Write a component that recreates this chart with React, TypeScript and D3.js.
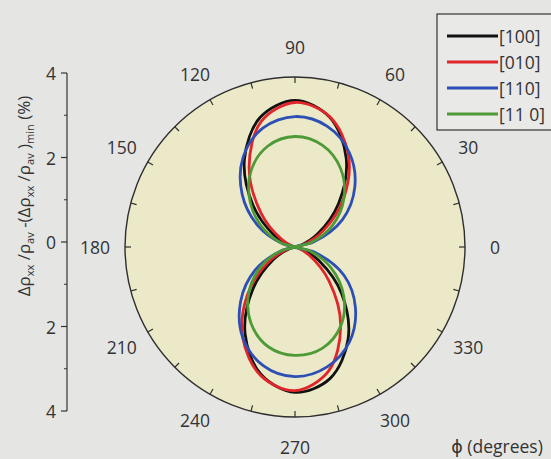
import React from 'react';
import * as d3 from 'd3';

// polar data, phi in degrees, value in %
const angles = [0, 15, 30, 45, 60, 75, 90, 105, 120, 135, 150, 165, 180, 195, 210, 225, 240, 255, 270, 285, 300, 315, 330, 345];
const dir100 = [0, 0.12, 0.61, 1.45, 2.41, 3.16, 3.45, 3.16, 2.38, 1.4, 0.58, 0.11, 0, 0.11, 0.58, 1.4, 2.35, 3.1, 3.42, 3.2, 2.5, 1.55, 0.66, 0.13];
const dir010 = [0, 0.19, 0.77, 1.62, 2.51, 3.17, 3.4, 3.06, 2.16, 1.13, 0.37, 0.05, 0, 0.17, 0.74, 1.58, 2.46, 3.13, 3.38, 3.03, 2.15, 1.13, 0.38, 0.05];
const dir110 = [0, 0.45, 1.29, 1.99, 2.56, 2.94, 3.07, 2.9, 2.44, 1.76, 1.01, 0.3, 0, 0.32, 1.08, 1.81, 2.46, 2.89, 3.05, 2.92, 2.57, 2.01, 1.33, 0.48];
const dir1m10 = [0, 0.38, 1.02, 1.63, 2.14, 2.48, 2.6, 2.46, 2.07, 1.49, 0.86, 0.3, 0, 0.34, 0.93, 1.54, 2.07, 2.43, 2.55, 2.47, 2.15, 1.62, 0.98, 0.36];

const seriesNames = ['[100]', '[010]', '[110]', '[11 0]'];
const seriesColors = ['#111111', '#e0262b', '#2d4fb5', '#4d9a36'];
const angleLabels = [0, 30, 60, 90, 120, 150, 180, 210, 240, 270, 300, 330];
const radialTicks = [4, 2, 0, -2, -4];
const radialMinor = [3, 1, -1, -3];

const cx = 295;
const cy = 247;
const R = 170;
const font = "'Open Sans', 'DejaVu Sans', sans-serif";

const App = () => {
  const allSeries = [dir100, dir010, dir110, dir1m10];
  const rScale = d3.scaleLinear().domain([0, 4]).range([0, R]);
  const line = d3
    .lineRadial<number>()
    .angle((d, i) => ((90 - angles[i]) * Math.PI) / 180)
    .radius((d) => rScale(d))
    .curve(d3.curveCatmullRomClosed.alpha(0.5));
  const yScale = d3.scaleLinear().domain([-4, 4]).range([411, 73]);
  const tickAngles = d3.range(0, 360, 15);
  const rad = (a: number) => (a * Math.PI) / 180;

  const sub = (t: string) => (
    <>
      <tspan dy={4} fontSize={11}>{t}</tspan>
      <tspan dy={-4}> </tspan>
    </>
  );

  return (
    <svg width={551} height={459} style={{ position: 'absolute', left: 0, top: 0 }} fontFamily={font}>
      <rect width={551} height={459} fill="#e5e5e4" />

      {/* polar frame */}
      <circle cx={cx} cy={cy} r={R} fill="#ece9c8" stroke="#2e2e2e" strokeWidth={1.4} />
      {tickAngles.map((a) => (
        <line
          key={a}
          x1={cx + R * Math.cos(rad(a))}
          y1={cy - R * Math.sin(rad(a))}
          x2={cx + (R - 6) * Math.cos(rad(a))}
          y2={cy - (R - 6) * Math.sin(rad(a))}
          stroke="#2e2e2e"
          strokeWidth={1.2}
        />
      ))}
      {angleLabels.map((a) => (
        <text
          key={a}
          x={cx + 200 * Math.cos(rad(a))}
          y={cy - 200 * Math.sin(rad(a))}
          textAnchor="middle"
          dominantBaseline="central"
          fontSize={17.5}
          fill="#333"
        >
          {a}
        </text>
      ))}

      {/* curves */}
      <g transform={`translate(${cx},${cy})`}>
        {allSeries.map((s, i) => (
          <path key={i} d={line(s) || ''} fill="none" stroke={seriesColors[i]} strokeWidth={2.8} strokeLinejoin="round" />
        ))}
      </g>

      {/* radial axis on the left */}
      <line x1={67} x2={67} y1={yScale(4)} y2={yScale(-4)} stroke="#333" strokeWidth={1.2} />
      {radialTicks.map((t) => (
        <g key={t}>
          <line x1={61} x2={67} y1={yScale(t)} y2={yScale(t)} stroke="#333" strokeWidth={1.2} />
          <text x={56} y={yScale(t)} textAnchor="end" dominantBaseline="central" fontSize={17.5} fill="#333">
            {Math.abs(t)}
          </text>
        </g>
      ))}
      {radialMinor.map((t) => (
        <line key={t} x1={64} x2={67} y1={yScale(t)} y2={yScale(t)} stroke="#333" strokeWidth={1} />
      ))}
      <text transform="translate(30,196) rotate(-90)" textAnchor="middle" fontSize={17} fill="#333">
        Δρ{sub('xx')}/ρ{sub('av')}-(Δρ{sub('xx')}/ρ{sub('av')}){sub('min')}(%)
      </text>

      {/* legend */}
      <rect x={437} y={14} width={130} height={116} fill="#ffffff" fillOpacity={0.15} stroke="#333" strokeWidth={1.2} />
      {seriesNames.map((n, i) => (
        <g key={n} transform={`translate(0,${36 + i * 26})`}>
          <line x1={447} x2={498} y1={0} y2={0} stroke={seriesColors[i]} strokeWidth={3.2} />
          <text x={499} y={0} dominantBaseline="central" fontSize={17.5} fill="#333">
            {n}
          </text>
        </g>
      ))}

      <text x={497} y={453} textAnchor="middle" fontSize={17.5} fill="#333">
        ϕ (degrees)
      </text>
    </svg>
  );
};

export default App;
